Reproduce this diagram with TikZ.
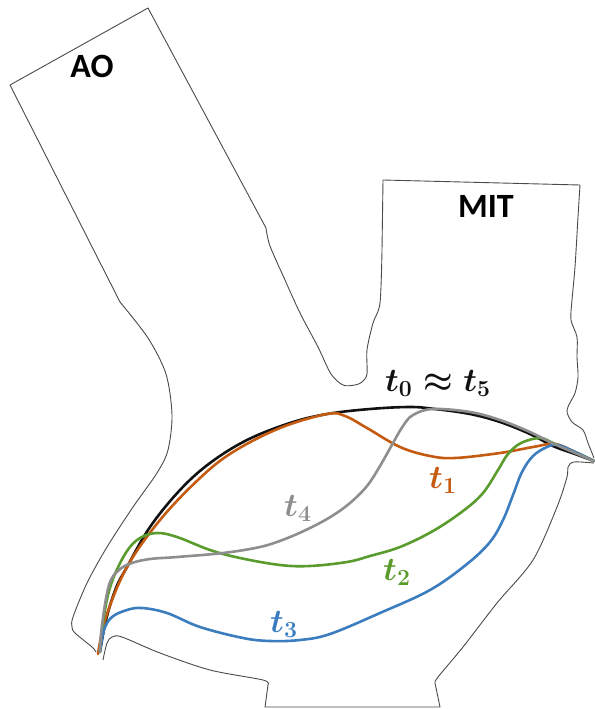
\documentclass[tikz,border=0pt]{standalone}
\usepackage{graphicx}
\usepackage{fontspec}
\newfontfamily\lblfont{Carlito}
\definecolor{wallgray}{HTML}{4A4A4A}
\definecolor{tzero}{HTML}{111111}
\definecolor{tone}{HTML}{C55A11}
\definecolor{ttwo}{HTML}{5A9B2E}
\definecolor{tthree}{HTML}{3C7DC0}
\definecolor{tfour}{HTML}{8E8E8E}
\newcommand{\bigtime}[1]{\scalebox{1.6}{$#1$}}
\tikzset{
  wall/.style={draw=wallgray, line width=0.9pt, line join=round},
  leaflet/.style={line width=2.6pt, line cap=round, line join=round},
  tubelabel/.style={font=\lblfont\bfseries\fontsize{34}{40}\selectfont, inner sep=0pt},
  timelabel/.style={font=\fontsize{20.74}{25}\selectfont\boldmath, inner sep=0pt},
}
\begin{document}
\begin{tikzpicture}[x=1pt, y=-1pt]
\useasboundingbox (0,0) rectangle (594,709);

% ---- ventricle wall: aorta, mitral inlet and apex region ----
% upper wall: aortic tube, septal bend and mitral inlet
\draw[wall] (10,85) -- (148,8) -- (266,228)
  plot[smooth, tension=0.5] coordinates {(266,228) (270,246) (285,280) (300,313) (318,347) (331,374) (343,385) (355,385) (362,382) (367,374) (367,350) (373,323) (380,303) (382,250)}
  -- (383,180) -- (580,185)
  plot[smooth, tension=0.5] coordinates {(580,185) (578,217) (575,267) (572,300) (571,320) (577,337) (577,357) (578,377) (575,393) (567,410) (572,422) (583,430) (588,443) (594,458)};

% left wall down to the valve hinge
\draw[wall] (10,85) -- (120,302)
  plot[smooth, tension=0.5] coordinates {(120,302) (148,338) (166,374) (172,415) (168,450) (157,473) (133,507) (107,547) (87,583) (73,617) (72,627) (75,633) (92,647) (96,652)};

% lower wall from the valve hinge around the bottom
\draw[wall]
  plot[smooth, tension=0.5] coordinates {(103,660) (107,643) (112,637) (122,637) (160,653) (210,670) (263,680) (268,685)}
  -- (265,707) -- (440,707) -- (435,683)
  plot[smooth, tension=0.5] coordinates {(435,683) (438,677) (463,647) (497,603) (533,560) (557,507) (567,477) (568,467) (574,462) (594,463)};

% ---- leaflet shapes at successive instants ----
\draw[leaflet, tzero] plot[smooth, tension=0.6] coordinates {
  (100,652) (106,620) (116,588) (127,567) (150,527) (180,490) (210,463) (247,440) (290,423) (327,414) (370,409) (410,407) (435,409) (470,414) (500,422) (530,434) (553,446) (575,454) (594,461)};

\draw[leaflet, tone] plot[smooth, tension=0.6] coordinates {
  (98,654) (106,617) (127,567) (160,520) (200,478) (233,452) (280,428) (327,414) (345,416) (367,428) (400,447) (430,456) (455,458) (500,453) (533,447) (555,444) (575,452) (594,461)};

\draw[leaflet, ttwo] plot[smooth, tension=0.6] coordinates {
  (100,652) (103,623) (108,595) (115,574) (127,551) (140,538) (157,533) (177,537) (210,550) (240,558) (280,565) (310,566) (347,562) (370,556) (400,547) (433,531) (463,511) (483,493) (498,470) (508,454) (521,443) (540,438) (553,443) (575,452) (594,461)};

\draw[leaflet, tthree] plot[smooth, tension=0.6] coordinates {
  (100,652) (104,630) (112,617) (127,610) (142,608) (167,613) (200,627) (243,638) (270,641) (300,640) (330,634) (380,613) (430,590) (467,564) (490,542) (503,520) (513,495) (522,472) (533,456) (547,447) (558,445) (575,452) (594,461)};

\draw[leaflet, tfour] plot[smooth, tension=0.6] coordinates {
  (100,652) (102,625) (109,585) (119,570) (132,563) (150,559) (177,557) (223,553) (260,547) (285,539) (310,528) (332,516) (350,503) (367,486) (380,466) (393,443) (403,426) (413,415) (433,409) (470,412) (500,420) (530,432) (552,443) (575,453) (594,461)};

% ---- labels ----
\node[tubelabel] (ao) at (92,66) {AO};
\node[tubelabel] (mit) at (486,206) {MIT};
\node[timelabel, tzero] (lab05) at (438,383) {\bigtime{t_0\approx t_5}};
\node[timelabel, tone] (lab1) at (443,480) {\bigtime{t_1}};
\node[timelabel, ttwo] (lab2) at (397,572) {\bigtime{t_2}};
\node[timelabel, tthree] (lab3) at (284,624) {\bigtime{t_3}};
\node[timelabel, tfour] (lab4) at (298,508) {\bigtime{t_4}};
\end{tikzpicture}
\end{document}
